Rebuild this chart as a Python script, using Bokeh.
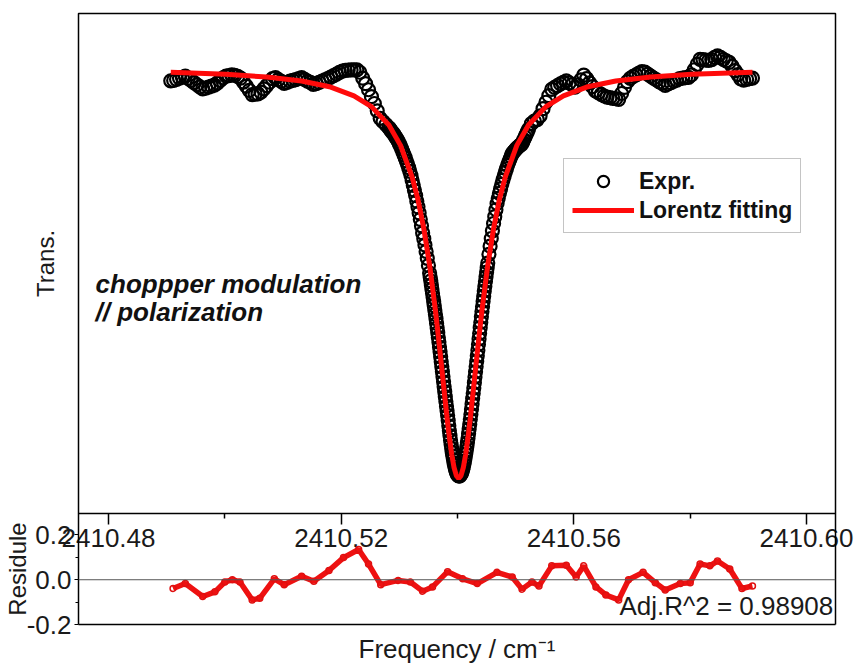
from bokeh.plotting import figure
from bokeh.models import (Range1d, FixedTicker, PrintfTickFormatter, LinearAxis,
                          Span, Label, Legend, LegendItem)
from bokeh.layouts import column
from bokeh.embed import file_html
from bokeh.resources import INLINE

FONT = "Liberation Sans"
TXT = "#1a1a1a"

# ---------------- data ----------------
exp_freq = [
    2410.4907, 2410.4912, 2410.4917, 2410.4922, 2410.4927, 2410.4932, 2410.4937, 2410.4942, 2410.4947, 2410.4952,
    2410.4957, 2410.4962, 2410.4967, 2410.4972, 2410.4977, 2410.4982, 2410.4987, 2410.4992, 2410.4997, 2410.5002,
    2410.5007, 2410.5012, 2410.5017, 2410.5022, 2410.5027, 2410.5032, 2410.5037, 2410.5042, 2410.5047, 2410.5052,
    2410.5057, 2410.5062, 2410.5067, 2410.5072, 2410.5077, 2410.5082, 2410.5087, 2410.5092, 2410.5097, 2410.5102,
    2410.5107, 2410.5112, 2410.5117, 2410.5122, 2410.5127, 2410.5132, 2410.5137, 2410.5142, 2410.5147, 2410.5152,
    2410.5157, 2410.5162, 2410.5167, 2410.5172, 2410.5177, 2410.5182, 2410.5187, 2410.5192, 2410.5197, 2410.5202,
    2410.5207, 2410.5212, 2410.5217, 2410.5222, 2410.5227, 2410.5232, 2410.5237, 2410.5242, 2410.5247, 2410.5252,
    2410.5257, 2410.5262, 2410.5267, 2410.5272, 2410.5277,
    2410.5282, 2410.5284, 2410.5286, 2410.5288, 2410.5290, 2410.5292, 2410.5294, 2410.5296, 2410.5298, 2410.5300,
    2410.5302, 2410.5304, 2410.5306, 2410.5308, 2410.5310, 2410.5312, 2410.5314, 2410.5316, 2410.5318, 2410.5320,
    2410.5322, 2410.5324, 2410.5326, 2410.5328, 2410.5330, 2410.5332, 2410.5334, 2410.5336, 2410.5338, 2410.5340,
    2410.5342, 2410.5344, 2410.5346, 2410.5348, 2410.5350,
    2410.5352, 2410.5353, 2410.5354, 2410.5355, 2410.5356, 2410.5357, 2410.5358, 2410.5359, 2410.5360, 2410.5361,
    2410.5362, 2410.5363, 2410.5364, 2410.5365, 2410.5366, 2410.5367, 2410.5368, 2410.5369, 2410.5370, 2410.5371,
    2410.5372, 2410.5373, 2410.5374, 2410.5375, 2410.5376, 2410.5377, 2410.5378, 2410.5379, 2410.5380, 2410.5381,
    2410.5382, 2410.5383, 2410.5384, 2410.5385, 2410.5386, 2410.5387, 2410.5388, 2410.5389, 2410.5390, 2410.5391,
    2410.5392, 2410.5393, 2410.5394, 2410.5395, 2410.5396, 2410.5397, 2410.5398, 2410.5399, 2410.5400, 2410.5401,
    2410.5402,
    2410.5403, 2410.5404, 2410.5405, 2410.5406, 2410.5407, 2410.5408, 2410.5409, 2410.5410, 2410.5411, 2410.5412,
    2410.5413, 2410.5414, 2410.5415, 2410.5416, 2410.5417, 2410.5418, 2410.5419, 2410.5420, 2410.5421, 2410.5422,
    2410.5423, 2410.5424, 2410.5425, 2410.5426, 2410.5427, 2410.5428, 2410.5429, 2410.5430, 2410.5431, 2410.5432,
    2410.5433, 2410.5434, 2410.5435, 2410.5436, 2410.5437, 2410.5438, 2410.5439, 2410.5440, 2410.5441, 2410.5442,
    2410.5443, 2410.5444, 2410.5445, 2410.5446, 2410.5447, 2410.5448, 2410.5449, 2410.5450, 2410.5451, 2410.5452,
    2410.5454, 2410.5456, 2410.5458, 2410.5460, 2410.5462, 2410.5464, 2410.5466, 2410.5468, 2410.5470, 2410.5472,
    2410.5474, 2410.5476, 2410.5478, 2410.5480, 2410.5482, 2410.5484, 2410.5486, 2410.5488, 2410.5490, 2410.5492,
    2410.5494, 2410.5496, 2410.5498, 2410.5500, 2410.5502, 2410.5504, 2410.5506, 2410.5508, 2410.5510, 2410.5512,
    2410.5514, 2410.5516, 2410.5518, 2410.5520, 2410.5522,
    2410.5527, 2410.5532, 2410.5537, 2410.5542, 2410.5547, 2410.5552, 2410.5557, 2410.5562, 2410.5567, 2410.5572,
    2410.5577, 2410.5582, 2410.5587, 2410.5592, 2410.5597, 2410.5602, 2410.5607, 2410.5612, 2410.5617, 2410.5622,
    2410.5627, 2410.5632, 2410.5637, 2410.5642, 2410.5647, 2410.5652, 2410.5657, 2410.5662, 2410.5667, 2410.5672,
    2410.5677, 2410.5682, 2410.5687, 2410.5692, 2410.5697, 2410.5702, 2410.5707, 2410.5712, 2410.5717, 2410.5722,
    2410.5727, 2410.5732, 2410.5737, 2410.5742, 2410.5747, 2410.5752, 2410.5757, 2410.5762, 2410.5767, 2410.5772,
    2410.5777, 2410.5782, 2410.5787, 2410.5792, 2410.5797, 2410.5802, 2410.5807, 2410.5812, 2410.5817, 2410.5822,
    2410.5827, 2410.5832, 2410.5837, 2410.5842, 2410.5847, 2410.5852, 2410.5857, 2410.5862, 2410.5867, 2410.5872,
    2410.5877, 2410.5882, 2410.5887, 2410.5892, 2410.5897, 2410.5902, 2410.5907,
]
exp_trans = [
    2.077, 2.079, 2.084, 2.090, 2.094, 2.099, 2.088, 2.079, 2.068, 2.058,
    2.048, 2.038, 2.042, 2.047, 2.051, 2.056, 2.066, 2.079, 2.091, 2.100,
    2.102, 2.106, 2.103, 2.098, 2.090, 2.071, 2.051, 2.031, 2.011, 2.013,
    2.014, 2.022, 2.038, 2.054, 2.070, 2.087, 2.092, 2.083, 2.074, 2.065,
    2.069, 2.075, 2.079, 2.083, 2.088, 2.092, 2.084, 2.075, 2.069, 2.060,
    2.063, 2.069, 2.076, 2.082, 2.087, 2.095, 2.102, 2.109, 2.117, 2.123,
    2.127, 2.128, 2.129, 2.129, 2.129, 2.118, 2.090, 2.063, 2.034, 2.001,
    1.968, 1.933, 1.897, 1.881, 1.867,
    1.852, 1.845, 1.837, 1.830, 1.823, 1.814, 1.805, 1.797, 1.787, 1.775,
    1.763, 1.750, 1.736, 1.722, 1.708, 1.692, 1.677, 1.660, 1.642, 1.622,
    1.599, 1.575, 1.551, 1.526, 1.499, 1.472, 1.443, 1.412, 1.381, 1.347,
    1.319, 1.289, 1.258, 1.225, 1.191,
    1.154, 1.135, 1.117, 1.097, 1.077, 1.057, 1.038, 1.017, 0.997, 0.976,
    0.956, 0.935, 0.912, 0.891, 0.868, 0.845, 0.823, 0.799, 0.776, 0.752,
    0.728, 0.704, 0.681, 0.656, 0.632, 0.608, 0.585, 0.561, 0.538, 0.515,
    0.493, 0.471, 0.446, 0.421, 0.397, 0.374, 0.352, 0.331, 0.311, 0.292,
    0.275, 0.259, 0.243, 0.230, 0.218, 0.208, 0.199, 0.192, 0.186, 0.183,
    0.181,
    0.180, 0.181, 0.185, 0.190, 0.195, 0.203, 0.213, 0.224, 0.237, 0.251,
    0.267, 0.284, 0.301, 0.320, 0.340, 0.361, 0.383, 0.406, 0.429, 0.452,
    0.476, 0.501, 0.526, 0.552, 0.577, 0.602, 0.628, 0.655, 0.680, 0.706,
    0.731, 0.757, 0.784, 0.812, 0.838, 0.865, 0.892, 0.918, 0.944, 0.970,
    0.994, 1.019, 1.043, 1.068, 1.091, 1.114, 1.136, 1.159, 1.180, 1.202,
    1.244, 1.283, 1.320, 1.357, 1.392, 1.425, 1.458, 1.488, 1.513, 1.537,
    1.558, 1.580, 1.600, 1.618, 1.637, 1.654, 1.671, 1.686, 1.700, 1.714,
    1.727, 1.735, 1.741, 1.748, 1.754, 1.759, 1.764, 1.769, 1.772, 1.781,
    1.795, 1.807, 1.819, 1.832, 1.844,
    1.871, 1.884, 1.891, 1.909, 1.943, 1.974, 2.006, 2.036, 2.045, 2.054,
    2.062, 2.069, 2.077, 2.067, 2.058, 2.047, 2.058, 2.081, 2.104, 2.087,
    2.067, 2.049, 2.029, 2.020, 2.012, 2.004, 1.999, 1.996, 1.993, 1.991,
    1.988, 2.016, 2.045, 2.073, 2.089, 2.098, 2.105, 2.114, 2.121, 2.119,
    2.109, 2.099, 2.090, 2.081, 2.072, 2.064, 2.055, 2.062, 2.068, 2.075,
    2.080, 2.087, 2.090, 2.092, 2.093, 2.105, 2.130, 2.156, 2.180, 2.179,
    2.176, 2.175, 2.179, 2.189, 2.197, 2.189, 2.180, 2.173, 2.165, 2.147,
    2.126, 2.107, 2.086, 2.080, 2.084, 2.087, 2.090,
]

fit_freq = [2410.4907, 2410.5002, 2410.5072, 2410.5132, 2410.5182, 2410.5222, 2410.5252, 2410.5282,
            2410.5302, 2410.5322, 2410.5332, 2410.5342, 2410.5352, 2410.5362, 2410.5367, 2410.5372,
            2410.5377, 2410.5382, 2410.5386, 2410.5390, 2410.5394, 2410.5398, 2410.5402, 2410.5406,
            2410.5410, 2410.5414, 2410.5418, 2410.5422, 2410.5427, 2410.5432, 2410.5437, 2410.5442,
            2410.5452, 2410.5462, 2410.5472, 2410.5482, 2410.5502, 2410.5522, 2410.5552, 2410.5582,
            2410.5622, 2410.5672, 2410.5732, 2410.5802, 2410.5907]
fit_trans = [2.118, 2.108, 2.095, 2.076, 2.047, 2.005, 1.953, 1.865,
             1.767, 1.615, 1.507, 1.368, 1.192, 0.975, 0.851, 0.721,
             0.588, 0.459, 0.365, 0.284, 0.221, 0.182, 0.168, 0.182,
             0.221, 0.284, 0.365, 0.459, 0.588, 0.721, 0.851, 0.975,
             1.192, 1.368, 1.507, 1.615, 1.767, 1.865, 1.953, 2.005,
             2.047, 2.076, 2.095, 2.108, 2.118]

res_freq = [2410.4911, 2410.4932, 2410.4962, 2410.4983, 2410.5000, 2410.5013, 2410.5026, 2410.5047,
            2410.5060, 2410.5085, 2410.5102, 2410.5132, 2410.5153, 2410.5179, 2410.5204, 2410.5230,
            2410.5247, 2410.5268, 2410.5298, 2410.5319, 2410.5340, 2410.5357, 2410.5383, 2410.5409,
            2410.5434, 2410.5468, 2410.5494, 2410.5511, 2410.5528, 2410.5540, 2410.5562, 2410.5587,
            2410.5604, 2410.5617, 2410.5638, 2410.5655, 2410.5677, 2410.5694, 2410.5719, 2410.5740,
            2410.5757, 2410.5783, 2410.5800, 2410.5817, 2410.5834, 2410.5847, 2410.5868, 2410.5889,
            2410.5907]
res_val = [-0.039, -0.017, -0.075, -0.054, -0.010, 0.000, -0.010, -0.090,
           -0.083, 0.004, -0.022, 0.016, -0.007, 0.041, 0.099, 0.135,
           0.070, -0.022, -0.003, -0.010, -0.051, -0.032, 0.036, 0.004,
           -0.017, 0.033, 0.012, -0.042, -0.010, -0.028, 0.062, 0.065,
           0.012, 0.062, -0.032, -0.068, -0.090, 0.000, 0.033, -0.013,
           -0.046, -0.017, -0.013, 0.070, 0.062, 0.084, 0.048, -0.039,
           -0.028]

x_major = [2410.48, 2410.52, 2410.56, 2410.60]
x_minor = [2410.50, 2410.54, 2410.58]
res_major = [-0.2, 0.0, 0.2]
res_minor = [-0.1, 0.1]
note_lines = ["choppper modulation", "// polarization"]
adj_text = "Adj.R^2 = 0.98908"

# ---------------- main panel ----------------
x_range = Range1d(2410.47484, 2410.60498)

p = figure(width=857, height=560, x_range=x_range, y_range=Range1d(0, 2.4),
           output_backend="svg", toolbar_location=None,
           min_border_left=78, min_border_right=22, min_border_top=13, min_border_bottom=47)
p.grid.visible = False
p.outline_line_color = "black"
p.outline_line_width = 1.5
p.background_fill_color = "white"
p.border_fill_color = "white"

exp_r = p.scatter(exp_freq, exp_trans, marker="circle", size=13, line_color="black",
                  line_width=2.2, fill_color=None)
fit_r = p.line(fit_freq, fit_trans, line_color="#ff0a0a", line_width=5)

xa = p.xaxis[0]
xa.ticker = FixedTicker(ticks=x_major, minor_ticks=x_minor)
xa.formatter = PrintfTickFormatter(format="%.2f")
xa.axis_line_color = None
xa.major_tick_out = 11
xa.major_tick_in = 0
xa.minor_tick_out = 5
xa.minor_tick_in = 0
xa.major_tick_line_width = 1.5
xa.minor_tick_line_width = 1.5
xa.major_tick_line_color = "black"
xa.minor_tick_line_color = "black"
xa.major_label_standoff = 4
xa.major_label_text_font = FONT
xa.major_label_text_font_size = "26px"
xa.major_label_text_color = TXT

ya = p.yaxis[0]
ya.ticker = FixedTicker(ticks=[])
ya.axis_line_color = None
ya.major_tick_line_color = None
ya.minor_tick_line_color = None
ya.axis_label = "Trans."
ya.axis_label_text_font = FONT
ya.axis_label_text_font_size = "24px"
ya.axis_label_text_font_style = "normal"
ya.axis_label_text_color = TXT
ya.axis_label_standoff = 20

legend = Legend(items=[LegendItem(label="Expr.", renderers=[exp_r]),
                       LegendItem(label="Lorentz fitting", renderers=[fit_r])],
                location=(485, 280))
legend.label_text_font = FONT
legend.label_text_font_size = "23px"
legend.label_text_font_style = "bold"
legend.label_text_color = "#111111"
legend.glyph_width = 62
legend.glyph_height = 28
legend.label_height = 28
legend.label_standoff = 5
legend.spacing = 1
legend.padding = 8
legend.margin = 0
legend.border_line_color = "#8a8a8a"
legend.border_line_width = 1
legend.background_fill_color = "white"
legend.background_fill_alpha = 1.0
p.add_layout(legend)

for txt, yb in zip(note_lines, [1.104, 0.965]):
    p.add_layout(Label(x=2410.47777, y=yb, text=txt, text_font=FONT, text_font_size="26px",
                       text_font_style="bold italic", text_color="#111111",
                       text_baseline="alphabetic"))

# ---------------- residual panel ----------------
r = figure(width=857, height=153, x_range=x_range, y_range=Range1d(-0.2, 0.296),
           output_backend="svg", toolbar_location=None,
           min_border_left=78, min_border_right=22, min_border_top=0, min_border_bottom=39,
           margin=(-47, 0, 0, 0))
r.grid.visible = False
r.outline_line_color = None
r.background_fill_color = None
r.border_fill_color = None

r.add_layout(Span(location=0, dimension="width", line_color="#555555", line_width=1))
r.line(res_freq, res_val, line_color="#ee1111", line_width=5.5)
r.scatter(res_freq, res_val, marker="circle", size=6, line_color="#e01010",
          fill_color=None, line_width=1.5)

rya = r.yaxis[0]
rya.ticker = FixedTicker(ticks=res_major, minor_ticks=res_minor)
rya.formatter = PrintfTickFormatter(format="%.1f")
rya.axis_line_width = 1.5
rya.axis_line_color = "black"
rya.major_tick_out = 4
rya.major_tick_in = 0
rya.minor_tick_out = 3
rya.minor_tick_in = 0
rya.major_tick_line_width = 1.2
rya.minor_tick_line_width = 1.2
rya.major_label_standoff = 3
rya.major_label_text_font = FONT
rya.major_label_text_font_size = "26px"
rya.major_label_text_color = TXT
rya.axis_label = "Residule"
rya.axis_label_text_font = FONT
rya.axis_label_text_font_size = "24px"
rya.axis_label_text_font_style = "normal"
rya.axis_label_text_color = TXT
rya.axis_label_standoff = -7

rxa = r.xaxis[0]
rxa.ticker = FixedTicker(ticks=[])
rxa.axis_line_width = 1.5
rxa.axis_line_color = "black"
rxa.major_tick_line_color = None
rxa.minor_tick_line_color = None
rxa.axis_label = "Frequency / cm\u207b\u00b9"
rxa.axis_label_text_font = FONT
rxa.axis_label_text_font_size = "26px"
rxa.axis_label_text_font_style = "normal"
rxa.axis_label_text_color = TXT
rxa.axis_label_standoff = 9

right_ax = LinearAxis(ticker=FixedTicker(ticks=[]), axis_line_width=1.5, axis_line_color="black",
                      major_tick_line_color=None, minor_tick_line_color=None)
r.add_layout(right_ax, "right")

r.add_layout(Label(x=2410.6046, y=-0.117, text=adj_text, text_font=FONT, text_font_size="26px",
                   text_color=TXT, text_align="right", text_baseline="middle"))

layout = column(p, r)
open("out.html", "w").write(file_html(layout, INLINE))
